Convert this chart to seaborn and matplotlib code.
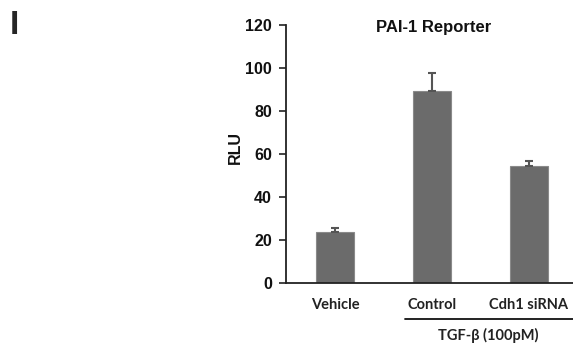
import matplotlib
matplotlib.use("Agg")
import matplotlib.pyplot as plt
import seaborn as sns
import pandas as pd
import numpy as np
from matplotlib.transforms import blended_transform_factory

categories = ["Vehicle", "Control", "Cdh1 siRNA"]
values = [23.7, 89.5, 54.2]
errors = [1.9, 8.0, 2.6]
yticks = [0, 20, 40, 60, 80, 100, 120]
title = "PAI-1 Reporter"
ylabel = "RLU"
group_label = "TGF-β (100pM)"
panel_label = "I"

sns.set_theme(style="white")
plt.rcParams['font.family'] = ['Liberation Sans', 'DejaVu Sans']

df = pd.DataFrame({"cond": categories, "rlu": values})

fig = plt.figure(figsize=(5.73, 3.44), dpi=100)
ax = fig.add_axes([286/573, (344-283)/344, 1 - 286/573, (283-25)/344])

sns.barplot(data=df, x="cond", y="rlu", order=categories, color="#6b6b6b",
            saturation=1, width=0.39, errorbar=None, ax=ax, edgecolor="#8a8a8a", linewidth=0.8)
ax.errorbar(np.arange(len(categories)), values, yerr=[np.zeros(len(errors)), errors],
            fmt="none", ecolor="#555555", elinewidth=1.5, capsize=2.7, capthick=1.5)

ax.set_xlim(-0.505, 2.454)
ax.set_ylim(0, 120)
ax.set_yticks(yticks)
ax.set_yticklabels([str(t) for t in yticks], fontsize=11.5, fontweight="bold", color="#111111")
ax.tick_params(axis="y", direction="out", length=5, width=1.2, color="#222222", pad=5, left=True)
ax.tick_params(axis="x", length=0, pad=11)
ax.set_xticks(range(len(categories)))
ax.set_xticklabels(categories, fontsize=10.5, fontweight="bold", family=["Lato", "DejaVu Sans"], color="#222222")
for s in ["top", "right"]:
    ax.spines[s].set_visible(False)
for s in ["left", "bottom"]:
    ax.spines[s].set_color("#222222")
    ax.spines[s].set_linewidth(1.3)
ax.set_xlabel("")
ax.set_ylabel(ylabel, fontsize=11.5, fontweight="bold", color="#111111", va="center")
ax.yaxis.set_label_coords(-0.178, 0.527)
ax.set_title("")
ax.text(1.02, 119, title, ha="center", va="center", fontsize=12, fontweight="bold", color="#111111")

tr = blended_transform_factory(ax.transData, ax.transAxes)
ax.plot([0.717, 2.6], [-0.14, -0.14], transform=tr, color="#111111", lw=1.3, clip_on=False)
ax.text(1.58, -0.205, group_label, transform=tr, ha="center", va="center",
        fontsize=10.5, fontweight="bold", family=["Lato", "DejaVu Sans"], color="#222222")

fig.text(14.2/573, 1 - 26/344, panel_label, ha="center", va="center", fontsize=24, fontweight="bold")

fig.savefig("out.png", dpi=100)
